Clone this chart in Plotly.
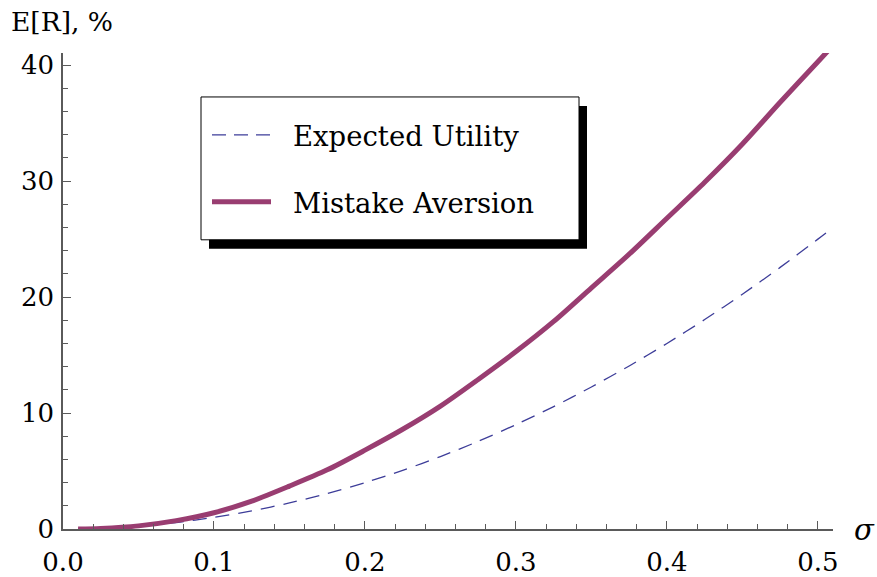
import plotly.graph_objects as go

# volatility grid and expected excess return (percent) for the two models
sigma = [0.01, 0.025, 0.05, 0.075, 0.1, 0.125, 0.15, 0.175, 0.2, 0.225, 0.25,
         0.275, 0.3, 0.325, 0.35, 0.375, 0.4, 0.425, 0.45, 0.475, 0.5, 0.51]
expected_utility = [0.01, 0.06, 0.25, 0.56, 1.0, 1.56, 2.25, 3.06, 4.0, 5.06, 6.25,
                    7.56, 9.0, 10.56, 12.25, 14.06, 16.0, 18.06, 20.25, 22.56, 25.0, 26.0]
mistake_aversion = [0.0, 0.05, 0.27, 0.72, 1.4, 2.4, 3.7, 5.1, 6.8, 8.6, 10.6,
                    12.9, 15.3, 17.9, 20.8, 23.7, 26.8, 29.9, 33.2, 36.8, 40.3, 41.7]

series_names = ["Expected Utility", "Mistake Aversion"]
x_ticks = [0.0, 0.1, 0.2, 0.3, 0.4, 0.5]
x_ticklabels = ["0.0", "0.1", "0.2", "0.3", "0.4", "0.5"]
y_ticks = [0, 10, 20, 30, 40]
y_ticklabels = ["0", "10", "20", "30", "40"]

EU_COLOR = "#3D3D99"
MA_COLOR = "#993D71"
FONT = "DejaVu Serif"
AXIS_COLOR = "#5a5a5a"

W, H = 877, 577
ML, MR, MT, MB = 63, 44, 53, 47.5
PW, PH = W - ML - MR, H - MT - MB


def px(x):
    return (x - ML) / PW


def py(y):
    return (H - MB - y) / PH


fig = go.Figure()
fig.add_trace(go.Scatter(x=sigma, y=expected_utility, mode="lines", name=series_names[0],
                         line=dict(color=EU_COLOR, width=1.3, dash="14px,9px",
                                   shape="spline", smoothing=0.8),
                         showlegend=False))
fig.add_trace(go.Scatter(x=sigma, y=mistake_aversion, mode="lines", name=series_names[1],
                         line=dict(color=MA_COLOR, width=5, shape="spline", smoothing=0.8),
                         showlegend=False))

axis_common = dict(
    showline=True, linecolor=AXIS_COLOR, linewidth=1.5,
    showgrid=False, zeroline=False, automargin=False,
    ticks="inside", tickcolor=AXIS_COLOR, tickwidth=1,
    tickfont=dict(family=FONT, size=26, color="black"),
)

fig.update_xaxes(range=[0, 0.51], tickvals=x_ticks, ticktext=x_ticklabels,
                 ticklen=8, ticklabelstandoff=9,
                 minor=dict(ticks="inside", dtick=0.02, tick0=0, ticklen=5,
                            tickcolor=AXIS_COLOR, tickwidth=1, showgrid=False),
                 **axis_common)
fig.update_yaxes(range=[0, 41.05], tickvals=y_ticks, ticktext=y_ticklabels,
                 ticklen=8, ticklabelstandoff=2,
                 minor=dict(ticks="inside", dtick=2, tick0=0, ticklen=5,
                            tickcolor=AXIS_COLOR, tickwidth=1, showgrid=False),
                 **axis_common)

shapes = []
# drop-shadow behind the legend frame
shapes.append(dict(type="rect", xref="paper", yref="paper",
                   x0=px(209), x1=px(587), y0=py(106), y1=py(249),
                   fillcolor="black", line=dict(width=0), layer="above"))
# legend frame
shapes.append(dict(type="rect", xref="paper", yref="paper",
                   x0=px(201), x1=px(579), y0=py(97), y1=py(240),
                   fillcolor="white", line=dict(color="black", width=1), layer="above"))
# legend samples
shapes.append(dict(type="line", xref="paper", yref="paper",
                   x0=px(212), x1=px(271), y0=py(135), y1=py(135),
                   line=dict(color=EU_COLOR, width=1.3, dash="14px,8px"), layer="above"))
shapes.append(dict(type="line", xref="paper", yref="paper",
                   x0=px(212), x1=px(271), y0=py(202), y1=py(202),
                   line=dict(color=MA_COLOR, width=5), layer="above"))

annotations = [
    dict(text=series_names[0], x=px(291), y=py(136), xref="paper", yref="paper",
         xanchor="left", yanchor="middle", showarrow=False,
         font=dict(family=FONT, size=27.5, color="black")),
    dict(text=series_names[1], x=px(291), y=py(203), xref="paper", yref="paper",
         xanchor="left", yanchor="middle", showarrow=False,
         font=dict(family=FONT, size=27.5, color="black")),
    dict(text="E[R], %", x=px(9), y=py(21), xref="paper", yref="paper",
         xanchor="left", yanchor="middle", showarrow=False,
         font=dict(family=FONT, size=26.5, color="black")),
    dict(text="<i>σ</i>", x=px(852), y=py(531), xref="paper", yref="paper",
         xanchor="left", yanchor="middle", showarrow=False,
         font=dict(family=FONT, size=29, color="black")),
]

fig.update_layout(
    width=W, height=H,
    margin=dict(l=ML, r=MR, t=MT, b=MB, pad=0),
    paper_bgcolor="white", plot_bgcolor="white",
    shapes=shapes, annotations=annotations,
    showlegend=False,
)

fig.write_html("out.html")
